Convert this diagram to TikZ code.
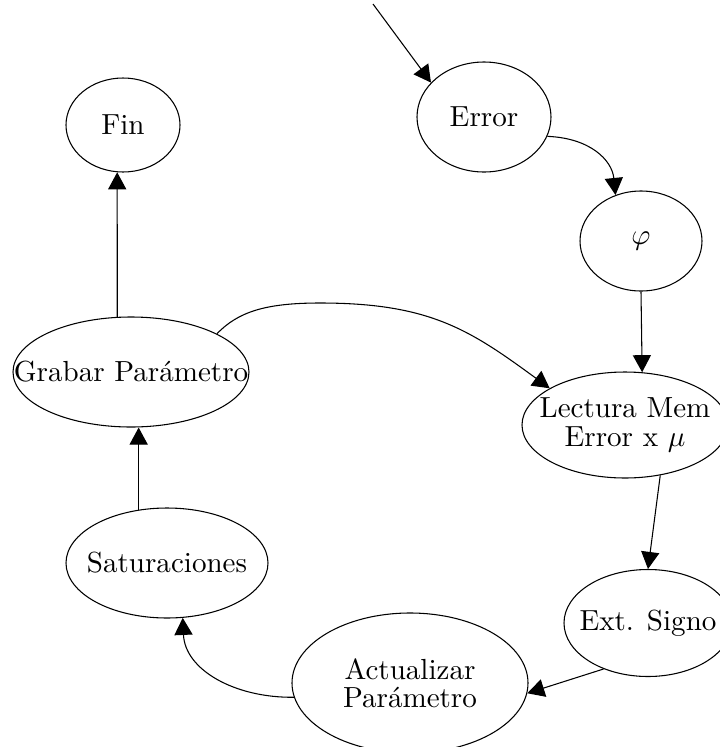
\documentclass[tikz,border=0pt]{standalone}
\usetikzlibrary{shapes.geometric,arrows.meta}
\begin{document}
\begin{tikzpicture}[x=0.375pt,y=-0.375pt,
  font=\fontsize{10.9}{10.6}\selectfont,
  oval/.style 2 args={ellipse,draw,line width=0.4pt,inner sep=0pt,
    minimum width=#1*0.375pt,minimum height=#2*0.375pt},
  txt/.style={align=center,inner sep=0pt},
  flow/.style={draw,line width=0.4pt,-{Triangle[length=6.4pt,width=6.8pt]}}]
  \clip (0,0) rectangle (720,747);
  \useasboundingbox (0,0) rectangle (720,747);

  % states: outline sized explicitly, text centred inside
  \node[oval={114}{94},  label={[txt]center:Fin}]   (fin)  at (123,125) {};
  \node[oval={134}{110}, label={[txt]center:Error}] (err)  at (484,117) {};
  \node[oval={122}{100}, label={[txt]center:$\varphi$}] (phi) at (641,241) {};
  \node[oval={206}{106}, label={[txt]center:Lectura Mem\\Error x $\mu$}] (lect) at (625,425) {};
  \node[oval={236}{110}, label={[txt]center:Grabar Parámetro}] (gp) at (131,372) {};
  \node[oval={202}{110}, label={[txt]center:Saturaciones}] (sat) at (167,563) {};
  \node[oval={168}{107}, label={[txt]center:Ext. Signo}] (ext) at (648,623) {};
  \node[oval={236}{140}, label={[txt]center:Actualizar\\Parámetro}] (act) at (410,683) {};

  \coordinate (start) at (373,4);

  % transitions
  \path[flow] (start) -- (err.147);
  \path[flow] (err.-17) .. controls (590,138) and (612,160) .. (phi.119);
  \path[flow] (phi.south) -- (lect.72);
  \path[flow] (lect.-55) -- (ext.north);
  \path[flow] (ext.-134) -- (act.-5);
  \path[flow] (act.187) .. controls (235,698) and (185,670) .. (sat.-74);
  \path[flow] (sat.118) -- (sat.118 |- gp.south);
  \path[flow] (gp.104) -- (fin.-97);
  \path[flow] (gp.24) .. controls (238,312) and (265,303) .. (320,303)
                      .. controls (430,303) and (470,330) .. (lect.154);
\end{tikzpicture}
\end{document}
